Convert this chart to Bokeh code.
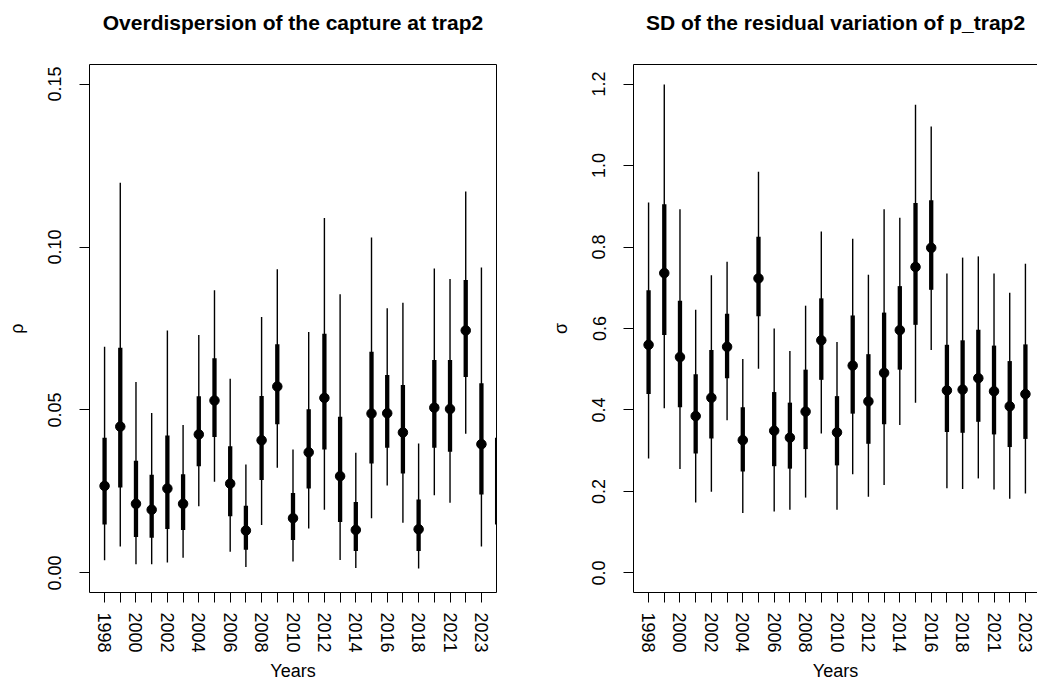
import math
from bokeh.plotting import figure
from bokeh.layouts import row
from bokeh.models import Range1d, FixedTicker, LinearAxis, ColumnDataSource
from bokeh.embed import file_html
from bokeh.resources import INLINE

NAN = float("nan")

# ---------------- data ----------------
years = ["1998", "1999", "2000", "2001", "2002", "2003", "2004", "2005", "2006",
         "2007", "2008", "2009", "2010", "2011", "2012", "2013", "2014", "2015",
         "2016", "2017", "2018", "2019", "2021", "2022", "2023", "2024"]

x_tick_labels = ["1998", "", "2000", "", "2002", "", "2004", "", "2006", "",
                 "2008", "", "2010", "", "2012", "", "2014", "", "2016", "",
                 "2018", "", "2021", "", "2023"]

# Overdispersion rho at trap2
rho_mean = [0.0267, 0.0449, 0.0212, 0.0194, 0.0259, 0.0212, 0.0425, 0.0529, 0.0274,
            0.0130, 0.0407, 0.0572, 0.0168, 0.0370, 0.0537, 0.0297, 0.0132, 0.0489,
            0.0490, 0.0431, 0.0134, 0.0507, 0.0503, 0.0744, 0.0395, NAN]
rho_lo95 = [0.0039, 0.0081, 0.0027, 0.0027, 0.0032, 0.0047, 0.0205, 0.0280, 0.0065,
            0.0018, 0.0147, 0.0323, 0.0035, 0.0136, 0.0194, 0.0040, 0.0015, 0.0168,
            0.0268, 0.0154, 0.0014, 0.0238, 0.0215, 0.0427, 0.0081, 0.0045]
rho_hi95 = [0.0694, 0.1197, 0.0586, 0.0491, 0.0744, 0.0454, 0.0730, 0.0867, 0.0596,
            0.0333, 0.0785, 0.0932, 0.0379, 0.0739, 0.1089, 0.0855, 0.0369, 0.1029,
            0.0812, 0.0829, 0.0397, 0.0934, 0.0902, 0.1170, 0.0937, 0.0695]
rho_lo50 = [0.0149, 0.0262, 0.0110, 0.0108, 0.0135, 0.0132, 0.0327, 0.0417, 0.0174,
            0.0071, 0.0285, 0.0456, 0.0101, 0.0259, 0.0379, 0.0156, 0.0067, 0.0336,
            0.0384, 0.0305, 0.0067, 0.0384, 0.0372, 0.0601, 0.0241, 0.0149]
rho_hi50 = [0.0415, 0.0691, 0.0344, 0.0301, 0.0422, 0.0303, 0.0542, 0.0659, 0.0389,
            0.0206, 0.0543, 0.0702, 0.0245, 0.0502, 0.0734, 0.0479, 0.0218, 0.0679,
            0.0607, 0.0577, 0.0225, 0.0653, 0.0653, 0.0899, 0.0582, 0.0415]

# SD of the residual variation of p_trap2
sig_mean = [0.560, 0.736, 0.530, 0.385, 0.430, 0.555, 0.326, 0.723, 0.349, 0.332,
            0.396, 0.571, 0.345, 0.509, 0.421, 0.491, 0.596, 0.751, 0.798, 0.448,
            0.450, 0.478, 0.446, 0.409, 0.439, NAN]
sig_hi95 = [0.909, 1.199, 0.893, 0.646, 0.731, 0.764, 0.525, 0.985, 0.600, 0.545,
            0.656, 0.838, 0.567, 0.820, 0.732, 0.893, 0.872, 1.149, 1.096, 0.735,
            0.774, 0.777, 0.735, 0.688, 0.759, NAN]
sig_hi50 = [0.694, 0.905, 0.668, 0.488, 0.547, 0.636, 0.407, 0.825, 0.444, 0.418,
            0.499, 0.674, 0.434, 0.632, 0.537, 0.639, 0.704, 0.908, 0.915, 0.560,
            0.571, 0.597, 0.558, 0.520, 0.561, NAN]
sig_lo50 = [0.439, 0.584, 0.407, 0.293, 0.330, 0.478, 0.249, 0.630, 0.262, 0.256,
            0.304, 0.474, 0.264, 0.391, 0.317, 0.365, 0.499, 0.609, 0.695, 0.346,
            0.344, 0.371, 0.340, 0.309, 0.329, NAN]
sig_lo95 = [0.281, 0.404, 0.255, 0.173, 0.199, 0.375, 0.147, 0.501, 0.151, 0.155,
            0.185, 0.342, 0.155, 0.242, 0.187, 0.216, 0.363, 0.418, 0.547, 0.208,
            0.206, 0.232, 0.205, 0.182, 0.195, NAN]

rho_ticks = [0.0, 0.05, 0.10, 0.15]
rho_tick_labels = ["0.00", "0.05", "0.10", "0.15"]
sig_ticks = [0.0, 0.2, 0.4, 0.6, 0.8, 1.0, 1.2]
sig_tick_labels = ["0.0", "0.2", "0.4", "0.6", "0.8", "1.0", "1.2"]

# ---------------- styling / layout ----------------
FONT = "Liberation Sans"
FRAME_W = 407
FRAME_H = 528
N_LAB = len(x_tick_labels)
PAD = 0.04 * (N_LAB - 1)
X0, X1 = 1 - PAD, N_LAB + PAD


def panel(title, ylab, mean, lo95, hi95, lo50, hi50, yticks, ylabels, ymax,
          frame_w, border_left, border_right, closed):
    x_end = X0 + (X1 - X0) * frame_w / FRAME_W
    ypad = 0.04 * ymax
    p = figure(frame_width=frame_w, frame_height=FRAME_H,
               min_border_left=border_left, min_border_right=border_right,
               min_border_top=64, min_border_bottom=88,
               x_range=Range1d(X0, x_end), y_range=Range1d(-ypad, ymax + ypad),
               output_backend="svg", toolbar_location=None,
               background_fill_color="white", border_fill_color="white",
               title=None)
    p.xgrid.visible = False
    p.ygrid.visible = False
    p.outline_line_color = "black" if closed else None
    p.outline_line_width = 1
    # top edge of the box (open on the right for the cut-off second panel),
    # carrying the panel title as its label
    top = LinearAxis(ticker=FixedTicker(ticks=[]), major_label_text_font_size="0px",
                     major_tick_out=0, major_tick_in=0, major_label_standoff=0,
                     major_tick_line_color=None, minor_tick_line_color=None,
                     axis_line_color=None if closed else "black",
                     axis_label=title, axis_label_standoff=31,
                     axis_label_text_font=FONT, axis_label_text_font_size="21px",
                     axis_label_text_font_style="bold", axis_label_text_color="black")
    p.add_layout(top, "above")

    src = ColumnDataSource(dict(x=list(range(1, len(years) + 1)), year=years,
                                mean=mean, lo95=lo95, hi95=hi95, lo50=lo50, hi50=hi50))
    p.segment(x0="x", y0="lo95", x1="x", y1="hi95", source=src,
              line_color="black", line_width=1.4)
    p.segment(x0="x", y0="lo50", x1="x", y1="hi50", source=src,
              line_color="black", line_width=4.3)
    p.scatter(x="x", y="mean", source=src, size=9.5, marker="circle",
              fill_color="black", line_color="black")

    xa = p.below[0]
    xa.ticker = FixedTicker(ticks=list(range(1, N_LAB + 1)))
    xa.major_label_overrides = {i + 1: lab for i, lab in enumerate(x_tick_labels)}
    xa.major_label_orientation = "vertical"
    xa.axis_label = "Years"
    ya = p.left[0]
    ya.ticker = FixedTicker(ticks=yticks)
    ya.major_label_overrides = {t: l for t, l in zip(yticks, ylabels)}
    ya.major_label_orientation = "vertical"
    ya.axis_label = ylab
    for ax in (xa, ya):
        ax.major_label_text_font = FONT
        ax.major_label_text_font_size = "18px"
        ax.major_label_text_color = "black"
        ax.axis_label_text_font = FONT
        ax.axis_label_text_font_size = "18px"
        ax.axis_label_text_font_style = "normal"
        ax.axis_label_text_color = "black"
        ax.major_tick_out = 10
        ax.major_tick_in = 0
        ax.major_tick_line_color = "black"
        ax.minor_tick_line_color = None
        ax.axis_line_color = None if closed else "black"
    xa.major_label_standoff = 10
    xa.axis_label_standoff = 5
    ya.major_label_standoff = 18
    ya.axis_label_standoff = 19
    return p


p1 = panel("Overdispersion of the capture at trap2", "\u03c1",
           rho_mean, rho_lo95, rho_hi95, rho_lo50, rho_hi50,
           rho_ticks, rho_tick_labels, 0.15, FRAME_W, 89, 47, True)
p2 = panel("SD of the residual variation of p_trap2", "\u03c3",
           sig_mean, sig_lo95, sig_hi95, sig_lo50, sig_hi50,
           sig_ticks, sig_tick_labels, 1.2, 404, 90, 0, False)

layout = row(p1, p2)
open("out.html", "w").write(file_html(layout, INLINE))
